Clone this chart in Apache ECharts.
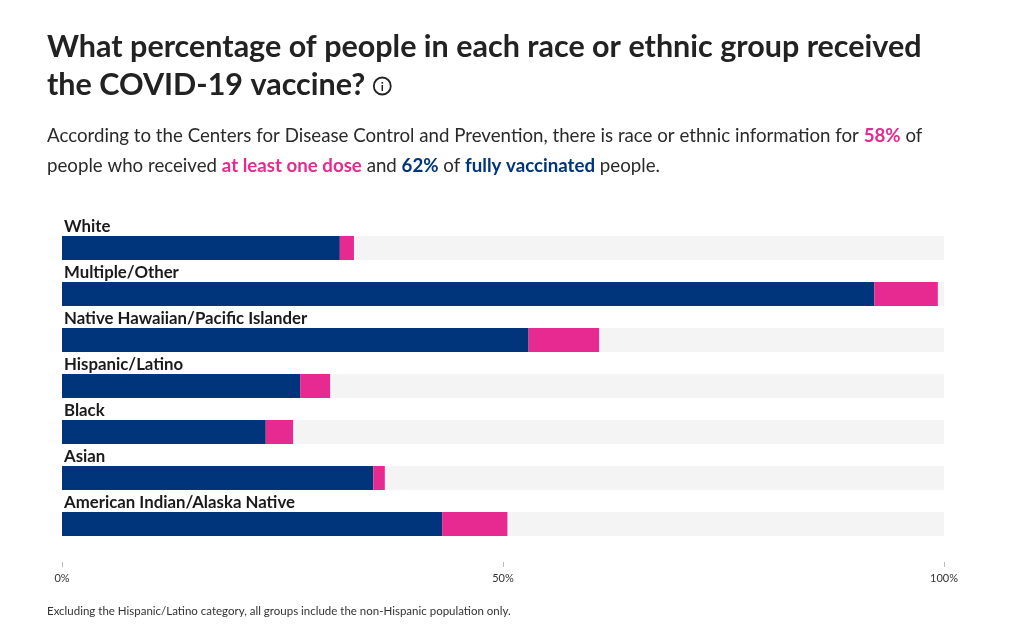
<!DOCTYPE html>
<html>
<head>
<meta charset="utf-8">
<script src="https://cdn.jsdelivr.net/npm/echarts@6/dist/echarts.min.js"></script>
<style>
  html, body { margin: 0; padding: 0; background: #fff; }
  #container { width: 1010px; height: 625px; }
</style>
</head>
<body>
<div id="container"></div>
<script>
// groups, top to bottom
var groups = ['White', 'Multiple/Other', 'Native Hawaiian/Pacific Islander', 'Hispanic/Latino', 'Black', 'Asian', 'American Indian/Alaska Native'];
// percent of group
var fullyVaccinated = [31.5, 92.1, 52.9, 27.0, 23.1, 35.3, 43.1];
var atLeastOneDose = [33.1, 99.3, 60.9, 30.4, 26.2, 36.6, 50.5];
var tickLabels = ['0%', '50%', '100%'];

var FONT = 'Lato, "Open Sans", sans-serif';
var BLUE = '#01357b';
var PINK = '#e62a91';
var TITLE_FONT = '700 30.5px ' + FONT;

var partialOnly = atLeastOneDose.map(function (v, i) {
    return +(v - fullyVaccinated[i]).toFixed(1);
});
var track = groups.map(function () { return 100; });

// where the info icon goes, just after the second title line
var ctx = document.createElement('canvas').getContext('2d');
ctx.font = TITLE_FONT;
var iconX = 47 + ctx.measureText('the COVID-19 vaccine?').width + 17;

var dom = document.getElementById('container');
var myChart = echarts.init(dom);
var option = {
    animation: false,
    textStyle: { fontFamily: FONT },
    grid: { left: 62, right: 66, top: 225, bottom: 78 },
    xAxis: {
        type: 'value',
        min: 0,
        max: 100,
        interval: 50,
        offset: 15,
        axisLine: { show: false },
        axisTick: { show: true, length: 5, lineStyle: { color: '#bbb' } },
        splitLine: { show: false },
        axisLabel: {
            color: '#333',
            fontSize: 11,
            margin: 11,
            formatter: function (v) { return tickLabels[v / 50]; }
        }
    },
    yAxis: {
        type: 'category',
        inverse: true,
        data: groups,
        axisLine: { show: false },
        axisTick: { show: false },
        axisLabel: { show: false }
    },
    series: [
        {
            name: 'track',
            type: 'bar',
            data: track,
            barWidth: 24,
            barGap: '-100%',
            silent: true,
            itemStyle: { color: '#f4f4f4' },
            label: {
                show: true,
                position: [2, -1],
                verticalAlign: 'bottom',
                align: 'left',
                fontSize: 16.8,
                fontWeight: 'bold',
                color: '#1a1a1a',
                fontFamily: FONT,
                formatter: function (p) { return p.name; }
            }
        },
        {
            name: 'fully vaccinated',
            type: 'bar',
            stack: 'dose',
            barWidth: 24,
            data: fullyVaccinated,
            itemStyle: { color: BLUE }
        },
        {
            name: 'at least one dose',
            type: 'bar',
            stack: 'dose',
            barWidth: 24,
            data: partialOnly,
            itemStyle: { color: PINK }
        }
    ],
    graphic: [
        {
            type: 'text', left: 47, top: 32,
            style: { text: 'What percentage of people in each race or ethnic group received', font: TITLE_FONT, fill: '#222' }
        },
        {
            type: 'text', left: 47, top: 70,
            style: { text: 'the COVID-19 vaccine?', font: TITLE_FONT, fill: '#222' }
        },
        {
            type: 'circle', shape: { cx: iconX, cy: 86, r: 8.5 },
            style: { fill: 'none', stroke: '#222', lineWidth: 1.8 }
        },
        {
            type: 'text', x: iconX, y: 87,
            style: { text: 'i', font: '700 12px ' + FONT, fill: '#222', align: 'center', verticalAlign: 'middle' }
        },
        {
            type: 'text', left: 47, top: 126,
            style: {
                text: 'According to the Centers for Disease Control and Prevention, there is race or ethnic information for {p|58%} of',
                font: '18.7px ' + FONT, fill: '#2a2a2a',
                rich: { p: { font: '700 18.7px ' + FONT, fill: PINK } }
            }
        },
        {
            type: 'text', left: 47, top: 156,
            style: {
                text: 'people who received {p|at least one dose} and {b|62%} of {b|fully vaccinated} people.',
                font: '18.7px ' + FONT, fill: '#2a2a2a',
                rich: {
                    p: { font: '700 18.7px ' + FONT, fill: PINK },
                    b: { font: '700 18.7px ' + FONT, fill: BLUE }
                }
            }
        },
        {
            type: 'text', left: 47, top: 605,
            style: { text: 'Excluding the Hispanic/Latino category, all groups include the non-Hispanic population only.', font: '11.5px ' + FONT, fill: '#333' }
        }
    ]
};
if (option && typeof option === 'object') {
    myChart.setOption(option, true);
}
</script>
</body>
</html>
